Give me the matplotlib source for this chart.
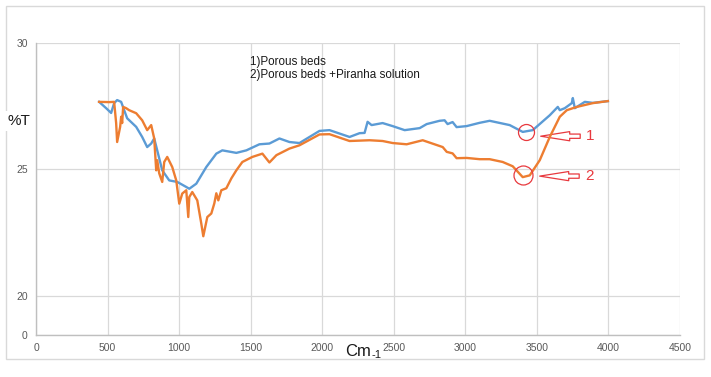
import numpy as np
import matplotlib
matplotlib.use("Agg")
import matplotlib.pyplot as plt
from matplotlib.patches import FancyArrowPatch, Rectangle

plt.rcParams['font.family'] = ['Liberation Sans', 'DejaVu Sans']

# blue: porous beds
wn1 = [441, 490, 525, 546, 567, 595, 616, 637, 700, 742, 777, 805, 826, 847, 882,
       931, 987, 1050, 1071, 1120, 1190, 1260, 1302, 1400, 1470, 1561, 1631, 1701,
       1771, 1841, 1981, 2051, 2191, 2261, 2296, 2317, 2345, 2422, 2492, 2576, 2681,
       2730, 2820, 2855, 2876, 2911, 2939, 3009, 3100, 3170, 3310, 3401, 3471, 3590,
       3646, 3660, 3695, 3744, 3751, 3765, 3835, 3891, 3996]
t1 = [27.67, 27.42, 27.23, 27.62, 27.74, 27.67, 27.34, 27.02, 26.68, 26.28, 25.88,
      26.02, 26.22, 25.75, 24.96, 24.56, 24.50, 24.30, 24.23, 24.43, 25.09, 25.62,
      25.75, 25.65, 25.75, 25.99, 26.02, 26.22, 26.08, 26.04, 26.52, 26.55, 26.28,
      26.43, 26.44, 26.88, 26.75, 26.83, 26.71, 26.55, 26.63, 26.79, 26.92, 26.94,
      26.79, 26.87, 26.67, 26.71, 26.84, 26.92, 26.75, 26.48, 26.55, 27.14, 27.47,
      27.34, 27.42, 27.62, 27.82, 27.42, 27.67, 27.63, 27.70]

# orange: porous beds + piranha solution
wn2 = [441, 511, 546, 560, 567, 588, 595, 602, 609, 630, 651, 700, 742, 777, 805,
       826, 840, 847, 861, 882, 896, 917, 952, 980, 1001, 1022, 1050, 1064, 1071,
       1092, 1127, 1155, 1169, 1197, 1225, 1246, 1260, 1274, 1295, 1330, 1365, 1400,
       1442, 1512, 1582, 1631, 1680, 1771, 1841, 1981, 2051, 2191, 2331, 2422, 2492,
       2590, 2702, 2842, 2870, 2911, 2939, 3009, 3100, 3170, 3261, 3331, 3401, 3450,
       3520, 3590, 3660, 3709, 3779, 3891, 3996]
t2 = [27.67, 27.66, 27.67, 26.83, 26.08, 26.68, 27.08, 26.83, 27.47, 27.42, 27.34,
      27.22, 26.94, 26.55, 26.75, 26.22, 24.96, 25.36, 24.84, 24.50, 25.29, 25.49,
      25.09, 24.56, 23.64, 24.04, 24.17, 23.11, 23.90, 24.10, 23.77, 22.85, 22.35,
      23.11, 23.25, 23.65, 24.05, 23.77, 24.17, 24.25, 24.64, 24.96, 25.29, 25.49,
      25.62, 25.27, 25.56, 25.82, 25.95, 26.38, 26.39, 26.12, 26.15, 26.12, 26.04,
      25.99, 26.15, 25.88, 25.69, 25.63, 25.44, 25.45, 25.40, 25.40, 25.29, 25.12,
      24.69, 24.76, 25.36, 26.28, 27.08, 27.34, 27.47, 27.62, 27.70]

legend_lines = "1)Porous beds\n2)Porous beds +Piranha solution"
xticks = [0, 500, 1000, 1500, 2000, 2500, 3000, 3500, 4000, 4500]
yticks = [0, 20, 25, 30]

# marked minima and labels
marks = [(3422, 26.46, 16), (3401, 24.79, 19)]
arrows = [(3822, 3507, 26.31, "1"), (3815, 3500, 24.73, "2")]

# y axis: 0-20 squeezed into a small band below 20-30
LOW = 1.56


def fwd(y):
    y = np.asarray(y, dtype=float)
    return np.where(y >= 20, LOW + (y - 20), y * LOW / 20)


def inv(v):
    v = np.asarray(v, dtype=float)
    return np.where(v >= LOW, 20 + (v - LOW), v * 20 / LOW)


fig = plt.figure(figsize=(7.11, 3.77), dpi=100)
ax = fig.add_axes([36 / 711, 42 / 377, 644 / 711, 292 / 377])
ax.set_yscale('function', functions=(fwd, inv))

ax.plot(wn1, t1, color='#5B9BD5', lw=1.7)
ax.plot(wn2, t2, color='#ED7D31', lw=1.7)

ax.set_xlim(0, 4500)
ax.set_ylim(0, 30)
ax.set_xticks(xticks)
ax.set_yticks(yticks)
ax.tick_params(length=0, labelsize=7.5, labelcolor='#595959', pad=6)
ax.grid(True, color='#D9D9D9', lw=0.9)
ax.set_axisbelow(True)
for s in ['top', 'right']:
    ax.spines[s].set_visible(False)
for s in ['left', 'bottom']:
    ax.spines[s].set_color('#BFBFBF')
    ax.spines[s].set_linewidth(1)

ax.text(0.332, 0.955, legend_lines, transform=ax.transAxes, fontsize=8.4,
        va='top', ha='left', color='#1a1a1a', linespacing=1.1)

red = '#E8393E'
for x, y, ms in marks:
    ax.plot([x], [y], 'o', ms=ms * 0.72, mfc='none', mec=red, mew=0.9)
for x0, x1, y, lab in arrows:
    ax.add_patch(FancyArrowPatch((x0, y), (x1, y),
                                 arrowstyle='simple,head_length=1.9,head_width=0.6,tail_width=0.28',
                                 mutation_scale=11, fc='white', ec=red, lw=0.9))
    ax.text(x0 + 20, y, lab, color=red, fontsize=11, va='center', ha='left')

# outer chart border
fig.patches.append(Rectangle((6 / 711, 18 / 377), 698 / 711, 353 / 377,
                             transform=fig.transFigure, fill=False,
                             ec='#D9D9D9', lw=1))

fig.text(19 / 711, 1 - 121 / 377, "%T", fontsize=11, ha='center', va='center',
         color='#1a1a1a', bbox=dict(fc='white', ec='none', pad=2))
fig.text(345 / 711, 1 - 352 / 377, "Cm", fontsize=12, ha='left', va='center',
         color='#1a1a1a')
fig.text(371 / 711, 1 - 355 / 377, "-1", fontsize=8, ha='left', va='center',
         color='#1a1a1a')

fig.savefig("out.png", dpi=100)
